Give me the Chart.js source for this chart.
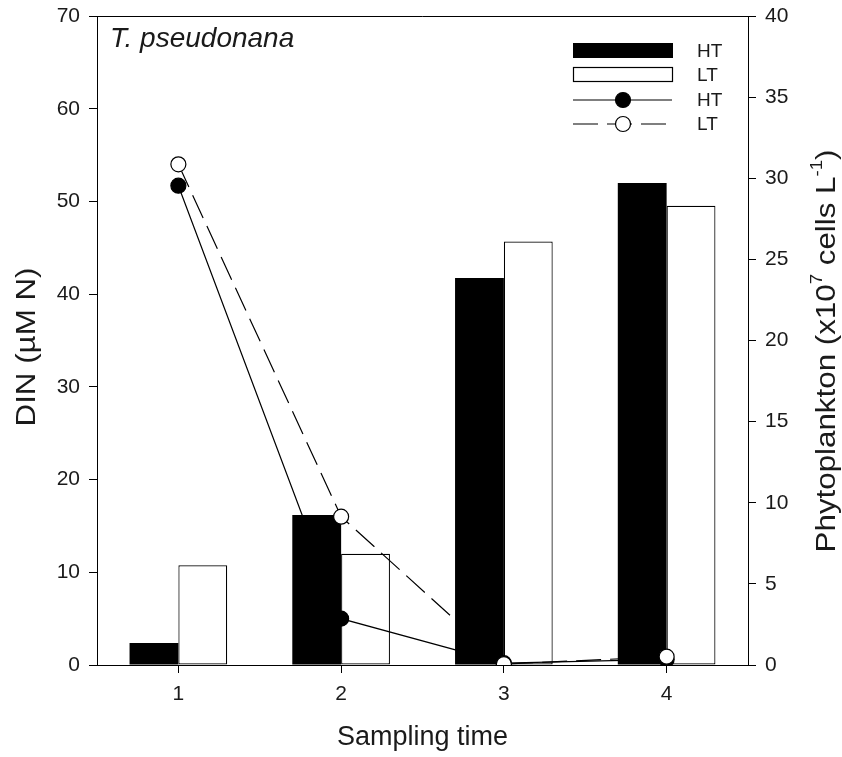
<!DOCTYPE html>
<html>
<head>
<meta charset="utf-8">
<script src="https://cdn.jsdelivr.net/npm/chart.js@4.4.1/dist/chart.umd.min.js"></script>
<style>
  html, body { margin: 0; padding: 0; background: #fff; }
  #wrap { width: 842px; height: 757px; }
</style>
</head>
<body>
<div id="wrap"><canvas id="chart" width="842" height="757"></canvas></div>
<script>
// Sampling times on the x axis
const samplingTimes = ['1', '2', '3', '4'];

// Phytoplankton abundance (x10^7 cells L^-1), bars on the right axis
const cellsHT = [1.35, 9.25, 23.85, 29.7];
const cellsLT = [6.15, 6.85, 26.1, 28.3];

// Dissolved inorganic nitrogen (µM N), lines on the left axis
const dinHT = [51.7, 5.0, 0.2, 0.6];
const dinLT = [54.0, 16.0, 0.1, 0.9];

// Axis ranges and tick steps
const dinAxis = { min: 0, max: 70, step: 10 };
const cellsAxis = { min: 0, max: 40, step: 5 };

const seriesLabels = ['HT', 'LT', 'HT', 'LT'];
const speciesName = 'T. pseudonana';
const dinTitle = 'DIN (\u00b5M N)';
const xTitle = 'Sampling time';

const FONT = '"Liberation Sans", Arial, Helvetica, sans-serif';
const INK = '#1a1a1a';
Chart.defaults.font.family = FONT;
Chart.defaults.color = INK;

// Top edge of the plot frame
const framePlugin = {
  id: 'frameTop',
  afterDatasetsDraw(chart) {
    const { ctx, chartArea: a } = chart;
    ctx.save();
    ctx.strokeStyle = '#000';
    ctx.lineWidth = 1;
    const y = Math.round(a.top) + 0.5;
    ctx.beginPath();
    ctx.moveTo(a.left, y);
    ctx.lineTo(a.right + 0.5, y);
    ctx.stroke();
    ctx.restore();
  }
};

// Species name in the top-left corner of the plot
const speciesPlugin = {
  id: 'speciesLabel',
  afterDatasetsDraw(chart) {
    const { ctx, chartArea: a } = chart;
    ctx.save();
    ctx.font = 'italic 28px ' + FONT;
    ctx.fillStyle = INK;
    ctx.textAlign = 'left';
    ctx.textBaseline = 'alphabetic';
    ctx.fillText(speciesName, a.left + 13, a.top + 31);
    ctx.restore();
  }
};

// Legend inside the plot, top-right: bar swatches and line+marker swatches
const insetLegend = {
  id: 'insetLegend',
  afterDatasetsDraw(chart) {
    const { ctx } = chart;
    const x0 = 573, x1 = 673, textX = 697;
    const rows = [50.5, 74.5, 100, 124];
    ctx.save();
    chart.data.datasets.forEach((ds, i) => {
      const cy = rows[i];
      if (ds.type === 'bar') {
        ctx.fillStyle = ds.backgroundColor;
        ctx.fillRect(x0, cy - 7.5, x1 - x0, 15);
        if (ds.borderWidth) {
          ctx.strokeStyle = ds.borderColor;
          ctx.lineWidth = 1.2;
          ctx.strokeRect(x0 + 0.5, cy - 7, x1 - x0 - 1, 14);
        }
      } else {
        ctx.strokeStyle = ds.borderColor;
        ctx.lineWidth = ds.borderWidth;
        ctx.setLineDash(ds.borderDash || []);
        ctx.beginPath();
        ctx.moveTo(x0, cy);
        ctx.lineTo(x1 - 1, cy);
        ctx.stroke();
        ctx.setLineDash([]);
        ctx.beginPath();
        ctx.arc(623, cy, ds.pointRadius, 0, Math.PI * 2);
        ctx.fillStyle = ds.pointBackgroundColor;
        ctx.fill();
        ctx.lineWidth = ds.pointBorderWidth;
        ctx.strokeStyle = ds.pointBorderColor;
        ctx.stroke();
      }
      ctx.font = '19px ' + FONT;
      ctx.fillStyle = INK;
      ctx.textAlign = 'left';
      ctx.textBaseline = 'middle';
      ctx.fillText(ds.label, textX, cy + 1);
    });
    ctx.restore();
  }
};

// Draws a run of text segments rotated to read bottom-to-top, centred on (cx, cy);
// the text is drawn slightly elongated along its reading direction.
function drawVerticalTitle(ctx, parts, cx, cy, stretch) {
  const big = '27px ' + FONT, small = '16px ' + FONT;
  ctx.save();
  let total = 0;
  parts.forEach(p => { ctx.font = p.sup ? small : big; p.w = ctx.measureText(p.t).width; total += p.w; });
  ctx.translate(cx, cy);
  ctx.rotate(-Math.PI / 2);
  ctx.scale(stretch, 1);
  ctx.fillStyle = INK;
  ctx.textAlign = 'left';
  ctx.textBaseline = 'middle';
  let x = -total / 2;
  parts.forEach(p => {
    ctx.font = p.sup ? small : big;
    ctx.fillText(p.t, x, p.sup ? -10 : 0);
    x += p.w;
  });
  ctx.restore();
}

// Both y-axis titles
const axisTitles = {
  id: 'axisTitles',
  afterDraw(chart) {
    const { ctx } = chart;
    drawVerticalTitle(ctx, [{ t: dinTitle, sup: false }], 28, 347, 1.16);
    drawVerticalTitle(ctx, [
      { t: 'Phytoplankton (x10', sup: false },
      { t: '7', sup: true },
      { t: ' cells L', sup: false },
      { t: '-1', sup: true },
      { t: ')', sup: false }
    ], 828, 351, 1.16);
  }
};

const ctx = document.getElementById('chart').getContext('2d');
new Chart(ctx, {
  type: 'bar',
  data: {
    labels: samplingTimes,
    datasets: [
      {
        type: 'bar', label: seriesLabels[0], data: cellsHT, yAxisID: 'yCells',
        backgroundColor: '#000', borderColor: '#000', borderWidth: 0,
        categoryPercentage: 0.6, barPercentage: 1.0, order: 3
      },
      {
        type: 'bar', label: seriesLabels[1], data: cellsLT, yAxisID: 'yCells',
        backgroundColor: '#fff', borderColor: '#000', borderWidth: 1.2, borderSkipped: false,
        categoryPercentage: 0.6, barPercentage: 1.0, order: 3
      },
      {
        type: 'line', label: seriesLabels[2], data: dinHT, yAxisID: 'yDin',
        borderColor: '#000', borderWidth: 1.2, fill: false, tension: 0,
        pointRadius: 7.5, pointBackgroundColor: '#000', pointBorderColor: '#000', pointBorderWidth: 1.2,
        order: 1
      },
      {
        type: 'line', label: seriesLabels[3], data: dinLT, yAxisID: 'yDin',
        borderColor: '#000', borderWidth: 1.2, borderDash: [25, 9], fill: false, tension: 0,
        pointRadius: 7.5, pointBackgroundColor: '#fff', pointBorderColor: '#000', pointBorderWidth: 1.2,
        order: 0
      }
    ]
  },
  options: {
    responsive: false,
    animation: false,
    devicePixelRatio: 1,
    layout: { padding: { top: 16, left: 0, right: 0, bottom: 0 } },
    plugins: {
      legend: { display: false },
      tooltip: { enabled: false }
    },
    scales: {
      x: {
        type: 'category',
        offset: true,
        grid: { display: true, drawOnChartArea: false, offset: false, tickLength: 8, color: '#000', lineWidth: 1 },
        border: { display: true, color: '#000', width: 1 },
        ticks: { font: { size: 21 }, color: INK, padding: 9 },
        title: { display: true, text: xTitle, font: { size: 27, lineHeight: 1 }, color: INK, padding: { top: 0, bottom: 6 } },
        afterFit(scale) { scale.height = 92; scale.paddingLeft = 0; scale.paddingRight = 0; }
      },
      yDin: {
        type: 'linear', position: 'left',
        min: dinAxis.min, max: dinAxis.max,
        grid: { display: true, drawOnChartArea: false, tickLength: 8, color: '#000', lineWidth: 1 },
        border: { display: true, color: '#000', width: 1 },
        ticks: { stepSize: dinAxis.step, font: { size: 21 }, color: INK, padding: 9 },
        title: { display: false },
        afterFit(scale) { scale.width = 97; scale.paddingTop = 0; scale.paddingBottom = 0; }
      },
      yCells: {
        type: 'linear', position: 'right',
        min: cellsAxis.min, max: cellsAxis.max,
        grid: { display: true, drawOnChartArea: false, tickLength: 8, color: '#000', lineWidth: 1 },
        border: { display: true, color: '#000', width: 1 },
        ticks: { stepSize: cellsAxis.step, font: { size: 21 }, color: INK, padding: 9 },
        title: { display: false },
        afterFit(scale) { scale.width = 94; scale.paddingTop = 0; scale.paddingBottom = 0; }
      }
    }
  },
  plugins: [framePlugin, speciesPlugin, insetLegend, axisTitles]
});
</script>
</body>
</html>
